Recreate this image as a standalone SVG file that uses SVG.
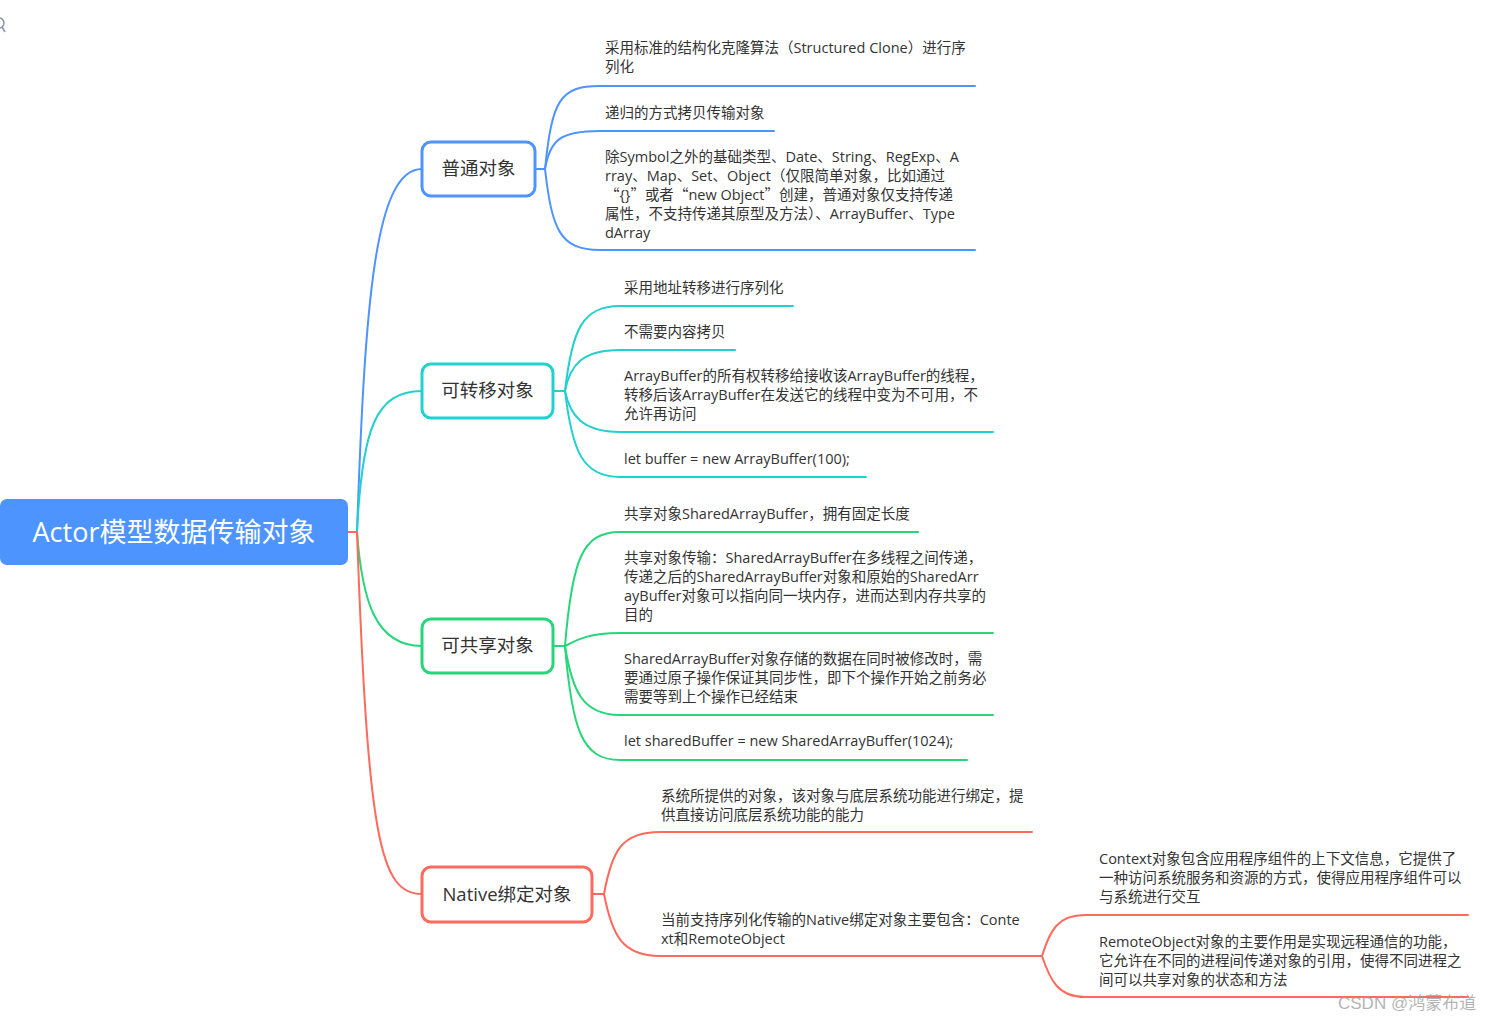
<svg xmlns="http://www.w3.org/2000/svg" width="1488" height="1021" viewBox="0 0 1488 1021">
<style>
.t{font-family:"Open Sans","Noto Sans CJK SC",sans-serif;font-size:14.5px;fill:#333}
.q{font-family:"Noto Sans CJK SC",sans-serif}
.n{font-family:"Open Sans","Noto Sans CJK SC",sans-serif;font-size:18.5px;fill:#333;text-anchor:middle}
.c{fill:none;stroke-width:2;stroke-linecap:round}
.b{stroke:#4E94FF}.cy{stroke:#21D0D0}.g{stroke:#27D67A}.r{stroke:#FF6A5C}
.box{fill:#fff;stroke-width:3}
</style>
<rect width="1488" height="1021" fill="#fff"/>
<g id="search-icon" fill="none" stroke="#8a93a8" stroke-width="1.5"><circle cx="-1" cy="23" r="5"/><line x1="2" y1="27" x2="5" y2="32"/></g>
<g id="connectors">
<path class="c b" d="M348,532 L357,532 C365,300 375,169 422,169"/>
<path class="c cy" d="M357,532 C362,430 375,391 422,391"/>
<path class="c g" d="M357,532 C362,600 375,646 422,646"/>
<path class="c r" d="M348,532 L357,532 C368,840 380,894 422,894"/>
<path class="c b" d="M535,169 L545,169 C552,100 560,86 600,86 L975,86"/>
<path class="c b" d="M545,169 C550,140 560,131 600,131 L774,131"/>
<path class="c b" d="M545,169 C552,230 560,250 600,250 L975,250"/>
<path class="c cy" d="M553,391 L565,391 C572,330 582,306 620,306 L793,306"/>
<path class="c cy" d="M565,391 C570,365 582,350 620,350 L735,350"/>
<path class="c cy" d="M565,391 C570,415 582,432 620,432 L993,432"/>
<path class="c cy" d="M565,391 C572,450 582,477 620,477 L866,477"/>
<path class="c g" d="M553,646 L565,646 C572,560 582,532 620,532 L918,532"/>
<path class="c g" d="M565,646 C570,645 580,633 620,633 L993,633"/>
<path class="c g" d="M565,646 C572,690 582,715 620,715 L993,715"/>
<path class="c g" d="M565,646 C572,730 582,760 620,760 L967,760"/>
<path class="c r" d="M592,894 L604,894 C612,850 622,832 660,832 L1032,832"/>
<path class="c r" d="M604,894 C612,935 622,956 660,956 L1042,956"/>
<path class="c r" d="M1042,956 C1050,930 1058,915 1085,915 L1468,915"/>
<path class="c r" d="M1042,956 C1050,980 1058,997 1085,997 L1468,997"/>
</g>
<g id="root">
<rect x="0" y="499" width="348" height="66" rx="7" fill="#4E94FF"/>
<text x="174" y="542" font-family="'Open Sans','Noto Sans CJK SC',sans-serif" font-size="27" fill="#fff" text-anchor="middle">Actor模型数据传输对象</text>
</g>
<g id="node-plain">
<rect class="box" x="422" y="142" width="113" height="54" rx="9" stroke="#4E94FF"/>
<text class="n" x="478.5" y="175">普通对象</text>
</g>
<g id="node-transfer">
<rect class="box" x="422" y="364" width="131" height="54" rx="9" stroke="#21D0D0"/>
<text class="n" x="487.5" y="397">可转移对象</text>
</g>
<g id="node-shared">
<rect class="box" x="422" y="619" width="131" height="54" rx="9" stroke="#27D67A"/>
<text class="n" x="487.5" y="652">可共享对象</text>
</g>
<g id="node-native">
<rect class="box" x="422" y="867" width="170" height="55" rx="9" stroke="#FF6A5C"/>
<text class="n" x="507" y="901">Native绑定对象</text>
</g>
<g id="leaf-plain-1"><text class="t" x="605" y="53">采用标准的结构化克隆算法（Structured Clone）进行序<tspan x="605" y="72">列化</tspan></text></g>
<g id="leaf-plain-2"><text class="t" x="605" y="118">递归的方式拷贝传输对象</text></g>
<g id="leaf-plain-3"><text class="t" x="605" y="162">除Symbol之外的基础类型、Date、String、RegExp、A<tspan x="605" y="181">rray、Map、Set、Object（仅限简单对象，比如通过</tspan><tspan x="605" y="200"><tspan class="q">“</tspan>{}<tspan class="q">”</tspan>或者<tspan class="q">“</tspan>new Object<tspan class="q">”</tspan>创建，普通对象仅支持传递</tspan><tspan x="605" y="219">属性，不支持传递其原型及方法）、ArrayBuffer、Type</tspan><tspan x="605" y="238">dArray</tspan></text></g>
<g id="leaf-transfer-1"><text class="t" x="624" y="293">采用地址转移进行序列化</text></g>
<g id="leaf-transfer-2"><text class="t" x="624" y="337">不需要内容拷贝</text></g>
<g id="leaf-transfer-3"><text class="t" x="624" y="381">ArrayBuffer的所有权转移给接收该ArrayBuffer的线程，<tspan x="624" y="400">转移后该ArrayBuffer在发送它的线程中变为不可用，不</tspan><tspan x="624" y="419">允许再访问</tspan></text></g>
<g id="leaf-transfer-4"><text class="t" x="624" y="464">let buffer = new ArrayBuffer(100);</text></g>
<g id="leaf-shared-1"><text class="t" x="624" y="519">共享对象SharedArrayBuffer，拥有固定长度</text></g>
<g id="leaf-shared-2"><text class="t" x="624" y="563">共享对象传输：SharedArrayBuffer在多线程之间传递，<tspan x="624" y="582">传递之后的SharedArrayBuffer对象和原始的SharedArr</tspan><tspan x="624" y="601">ayBuffer对象可以指向同一块内存，进而达到内存共享的</tspan><tspan x="624" y="620">目的</tspan></text></g>
<g id="leaf-shared-3"><text class="t" x="624" y="664">SharedArrayBuffer对象存储的数据在同时被修改时，需<tspan x="624" y="683">要通过原子操作保证其同步性，即下个操作开始之前务必</tspan><tspan x="624" y="702">需要等到上个操作已经结束</tspan></text></g>
<g id="leaf-shared-4"><text class="t" x="624" y="746">let sharedBuffer = new SharedArrayBuffer(1024);</text></g>
<g id="leaf-native-1"><text class="t" x="661" y="801">系统所提供的对象，该对象与底层系统功能进行绑定，提<tspan x="661" y="820">供直接访问底层系统功能的能力</tspan></text></g>
<g id="leaf-native-2"><text class="t" x="661" y="925">当前支持序列化传输的Native绑定对象主要包含：Conte<tspan x="661" y="944">xt和RemoteObject</tspan></text></g>
<g id="leaf-context"><text class="t" x="1099" y="864">Context对象包含应用程序组件的上下文信息，它提供了<tspan x="1099" y="883">一种访问系统服务和资源的方式，使得应用程序组件可以</tspan><tspan x="1099" y="902">与系统进行交互</tspan></text></g>
<g id="leaf-remote"><text class="t" x="1099" y="947">RemoteObject对象的主要作用是实现远程通信的功能，<tspan x="1099" y="966">它允许在不同的进程间传递对象的引用，使得不同进程之</tspan><tspan x="1099" y="985">间可以共享对象的状态和方法</tspan></text></g>
<text x="1338" y="1009" font-family="'Liberation Sans','Noto Sans CJK SC',sans-serif" font-size="17" fill="#999" fill-opacity="0.75">CSDN @鸿蒙布道</text>
</svg>
